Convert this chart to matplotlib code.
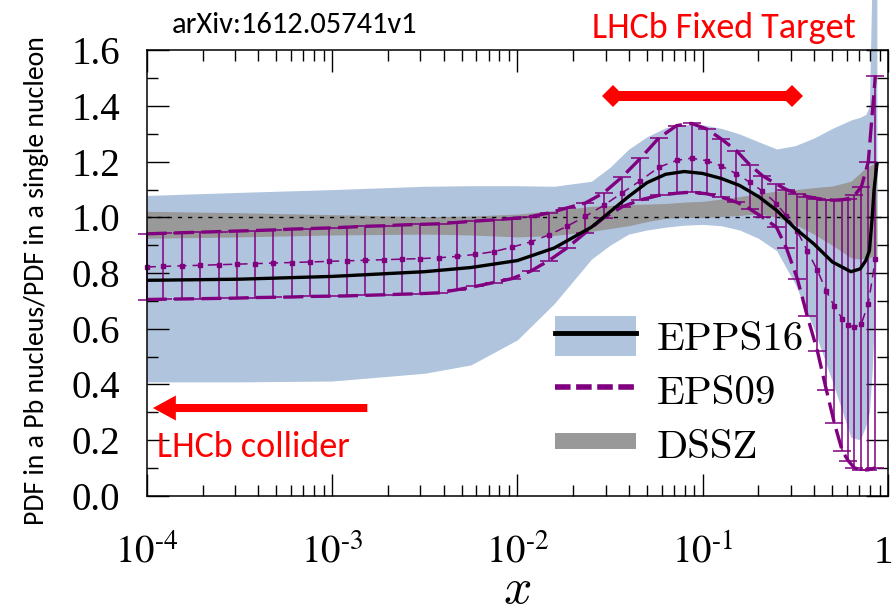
import numpy as np
import matplotlib
matplotlib.use("Agg")
import matplotlib.pyplot as plt
from matplotlib import font_manager
from matplotlib.patches import Patch
from matplotlib.lines import Line2D
from matplotlib.transforms import ScaledTranslation
from matplotlib.ticker import (FixedLocator, LogLocator, MultipleLocator,
                               FuncFormatter, NullFormatter)


def pick_font(*names):
    available = {f.name for f in font_manager.fontManager.ttflist}
    for n in names:
        if n in available:
            return n
    return "DejaVu Sans"


SANS = pick_font("Carlito", "Liberation Sans Narrow", "Lato")
SERIF = pick_font("Liberation Serif", "DejaVu Serif")
plt.rcParams["font.family"] = SERIF
plt.rcParams["mathtext.fontset"] = "stix"

# ---- EPPS16 and DSSZ on a common x grid ----
x_grid = [1e-4, 3.16e-4, 1e-3, 3.16e-3, 5.62e-3, 1e-2, 1.58e-2, 2.51e-2, 3.16e-2,
          3.98e-2, 5.01e-2, 6.31e-2, 7.94e-2, 0.1, 0.126, 0.158, 0.2, 0.251, 0.316,
          0.398, 0.501, 0.631, 0.708, 0.759, 0.794, 0.822, 0.841, 0.871]
epps16_central = [0.774, 0.778, 0.788, 0.805, 0.82, 0.845, 0.89, 0.965, 1.02, 1.075,
                  1.125, 1.155, 1.165, 1.158, 1.14, 1.115, 1.075, 1.025, 0.96, 0.905,
                  0.84, 0.805, 0.815, 0.845, 0.88, 1.0, 1.1, 1.19]
epps16_upper = [1.079, 1.09, 1.10, 1.112, 1.114, 1.114, 1.112, 1.13, 1.18, 1.245,
                1.29, 1.322, 1.334, 1.333, 1.32, 1.30, 1.272, 1.246, 1.258, 1.285,
                1.32, 1.35, 1.36, 1.37, 1.40, 1.9, 1.9, 1.9]
epps16_lower = [0.409, 0.409, 0.412, 0.44, 0.47, 0.56, 0.69, 0.85, 0.9, 0.94,
                0.955, 0.965, 0.972, 0.975, 0.97, 0.955, 0.925, 0.88, 0.76, 0.60,
                0.41, 0.21, 0.2, 0.25, 0.3, 0.45, 0.6, 0.9]
dssz_upper = [1.022, 1.017, 1.01, 1.003, 1.005, 1.012, 1.025, 1.04, 1.043, 1.046,
              1.048, 1.05, 1.055, 1.058, 1.066, 1.075, 1.085, 1.095, 1.1, 1.107,
              1.113, 1.13, 1.16, 1.18, 1.185, 1.19, 1.193, 1.195]
dssz_lower = [0.925, 0.93, 0.937, 0.94, 0.937, 0.93, 0.935, 0.95, 0.96, 0.97,
              0.985, 0.997, 1.0, 1.0, 1.003, 1.007, 1.013, 1.0, 0.975, 0.94,
              0.9, 0.855, 0.85, 0.855, 0.855, 0.86, 0.86, 0.86]

# ---- EPS09 on its own grid ----
eps09_x = [1e-4, 1.23e-4, 1.55e-4, 1.94e-4, 2.44e-4, 3.06e-4, 3.85e-4, 4.83e-4,
           6.07e-4, 7.62e-4, 9.57e-4, 1.2e-3, 1.51e-3, 1.9e-3, 2.38e-3, 2.99e-3,
           3.76e-3, 4.72e-3, 5.93e-3, 7.45e-3, 9.35e-3, 1.18e-2, 1.48e-2, 1.85e-2,
           2.33e-2, 2.92e-2, 3.67e-2, 4.61e-2, 5.79e-2, 0.0723, 0.0871, 0.105, 0.126,
           0.152, 0.179, 0.21, 0.25, 0.283, 0.324, 0.367, 0.416, 0.465, 0.514, 0.567,
           0.611, 0.659, 0.718, 0.783, 0.855]
eps09_central = [0.822, 0.824, 0.826, 0.828, 0.830, 0.832, 0.834, 0.836, 0.838, 0.840,
                 0.842, 0.844, 0.846, 0.848, 0.850, 0.852, 0.855, 0.86, 0.867, 0.877,
                 0.893, 0.912, 0.937, 0.968, 1.004, 1.043, 1.088, 1.132, 1.18, 1.205,
                 1.213, 1.204, 1.185, 1.157, 1.127, 1.095, 1.05, 1.005, 0.95, 0.88,
                 0.81, 0.735, 0.68, 0.635, 0.612, 0.605, 0.618, 0.69, 0.85]
eps09_upper = [0.941, 0.943, 0.945, 0.947, 0.949, 0.951, 0.953, 0.955, 0.958, 0.960,
               0.962, 0.965, 0.968, 0.970, 0.973, 0.975, 0.977, 0.982, 0.987, 0.991,
               0.996, 1.003, 1.016, 1.034, 1.052, 1.088, 1.145, 1.212, 1.285, 1.33,
               1.338, 1.318, 1.282, 1.24, 1.19, 1.15, 1.12, 1.10, 1.085, 1.075,
               1.068, 1.063, 1.062, 1.063, 1.068, 1.079, 1.11, 1.2, 1.51]
eps09_lower = [0.705, 0.706, 0.707, 0.708, 0.709, 0.710, 0.712, 0.713, 0.714, 0.716,
               0.717, 0.718, 0.72, 0.722, 0.724, 0.726, 0.729, 0.74, 0.752, 0.766,
               0.78, 0.807, 0.845, 0.89, 0.945, 0.998, 1.038, 1.063, 1.079, 1.087,
               1.091, 1.085, 1.073, 1.055, 1.031, 1.001, 0.965, 0.89, 0.78, 0.645,
               0.52, 0.38, 0.26, 0.16, 0.125, 0.1, 0.092, 0.093, 0.1]

# ---- kinematic ranges ----
fixed_target_x = [0.0327, 0.305]
fixed_target_y = 1.437
collider_x = [1.55e-3, 1.08e-4]
collider_y = 0.315

x_decades = [1e-4, 1e-3, 1e-2, 1e-1, 1.0]
legend_labels = ["EPPS16", "EPS09", "DSSZ"]

BLUE = "#B0C4DE"
GRAY = "#999999"
PURPLE = "#800080"
RED = "#FF0000"

fig = plt.figure(figsize=(8.92, 6.14), dpi=100)
ax = fig.add_axes([0.1645, 0.1927, 0.831, 0.7251])

ax.set_xscale("log")
ax.set_xlim(1e-4, 1.0)
ax.set_ylim(0.0, 1.6)

# bands
ax.fill_between(x_grid, epps16_lower, epps16_upper, color=BLUE, lw=0,
                zorder=1, clip_on=False)
ax.fill_between(x_grid, dssz_lower, dssz_upper, color=GRAY, lw=0, zorder=1.1)
ax.axhline(1.0, color="black", lw=1.0, ls=(0, (3, 4.3)), zorder=1.5)

# EPS09 error bars
yerr = [np.subtract(eps09_central, eps09_lower), np.subtract(eps09_upper, eps09_central)]
eb = ax.errorbar(eps09_x, eps09_central, yerr=yerr, fmt="none", ecolor=PURPLE,
                 elinewidth=1.1, capsize=6.5, capthick=1.1, zorder=2)
for art in list(eb.lines[1]) + list(eb.lines[2]):
    art.set_clip_on(False)

ax.plot(eps09_x, eps09_central, color=PURPLE, lw=1.1, ls=(0, (6, 4)),
        marker="s", ms=3, zorder=2.1, clip_on=False)
for band in (eps09_upper, eps09_lower):
    ax.plot(eps09_x, band, color=PURPLE, lw=2.4, ls=(0, (6, 2.2)),
            zorder=2.2, clip_on=False)

ax.plot(x_grid, epps16_central, color="black", lw=2.4, zorder=2.5)

# kinematic range markers
ax.plot(fixed_target_x, [fixed_target_y] * 2, color=RED, lw=7.2, marker="D",
        ms=11.3, mew=0, solid_capstyle="butt", zorder=3, clip_on=False)
ax.annotate("", xy=(collider_x[1], collider_y), xytext=(collider_x[0], collider_y),
            arrowprops=dict(arrowstyle="simple,head_length=16.5,head_width=18,tail_width=5.8",
                            mutation_scale=1, color=RED, lw=0, shrinkA=0, shrinkB=0),
            zorder=3)

# axes styling
for sp in ax.spines.values():
    sp.set_linewidth(1.1)
ax.xaxis.set_major_locator(FixedLocator(x_decades))
ax.xaxis.set_minor_locator(LogLocator(base=10, subs=np.arange(2, 10), numticks=20))
ax.xaxis.set_minor_formatter(NullFormatter())


def fmt_x(v, pos):
    e = int(round(np.log10(v)))
    return "1" if e == 0 else r"$10^{\text{-}%d}$" % (-e)


ax.xaxis.set_major_formatter(FuncFormatter(fmt_x))
ax.yaxis.set_major_locator(MultipleLocator(0.2))
ax.yaxis.set_minor_locator(MultipleLocator(0.1))
ax.yaxis.set_major_formatter(FuncFormatter(lambda v, p: "%.1f" % v))
ax.tick_params(which="both", direction="in", top=True, right=True, width=1.0,
               color="black")
ax.tick_params(which="major", length=16)
ax.tick_params(which="minor", length=8)
ax.tick_params(axis="x", which="major", labelsize=28, pad=28)
ax.tick_params(axis="y", which="major", labelsize=28, pad=19)

# keep the "1" at the right end inside the canvas
last = ax.xaxis.get_major_ticks(len(x_decades))[-1].label1
last.set_transform(last.get_transform() + ScaledTranslation(-5 / 100, 0, fig.dpi_scale_trans))

ax.set_xlabel("x", family="cmmi10", fontsize=36, labelpad=-3)

# legend
h_epps = (Patch(facecolor=BLUE, edgecolor="none"), Line2D([], [], color="black", lw=3.5))
h_eps = Line2D([], [], color=PURPLE, lw=4, ls=(0, (2.8, 1.0)))
h_dssz = Line2D([], [], color=GRAY, lw=11.5, solid_capstyle="butt")
ax.legend([h_epps, h_eps, h_dssz], legend_labels, loc="upper left",
          bbox_to_anchor=(0.551, 0.403), frameon=False,
          prop={"family": "cmr10", "size": 29.5}, handlelength=1.98,
          handleheight=1.1, handletextpad=0.5, labelspacing=0.3,
          borderpad=0, borderaxespad=0)

# texts
W, H = 892.0, 614.0
fig.text(37 / W, 1 - 281 / H, "PDF in a Pb nucleus/PDF in a single nucleon",
         rotation=90, ha="center", va="center", family=SANS, fontsize=20)
fig.text(172 / W, 1 - 33 / H, "arXiv:1612.05741v1", ha="left", va="baseline",
         family=SANS, fontsize=22, color="black")
fig.text(592 / W, 1 - 38 / H, "LHCb Fixed Target", ha="left", va="baseline",
         family=SANS, fontsize=26, color=RED)
fig.text(157 / W, 1 - 457 / H, "LHCb collider", ha="left", va="baseline",
         family=SANS, fontsize=26, color=RED)

fig.savefig("out.png", dpi=100)
